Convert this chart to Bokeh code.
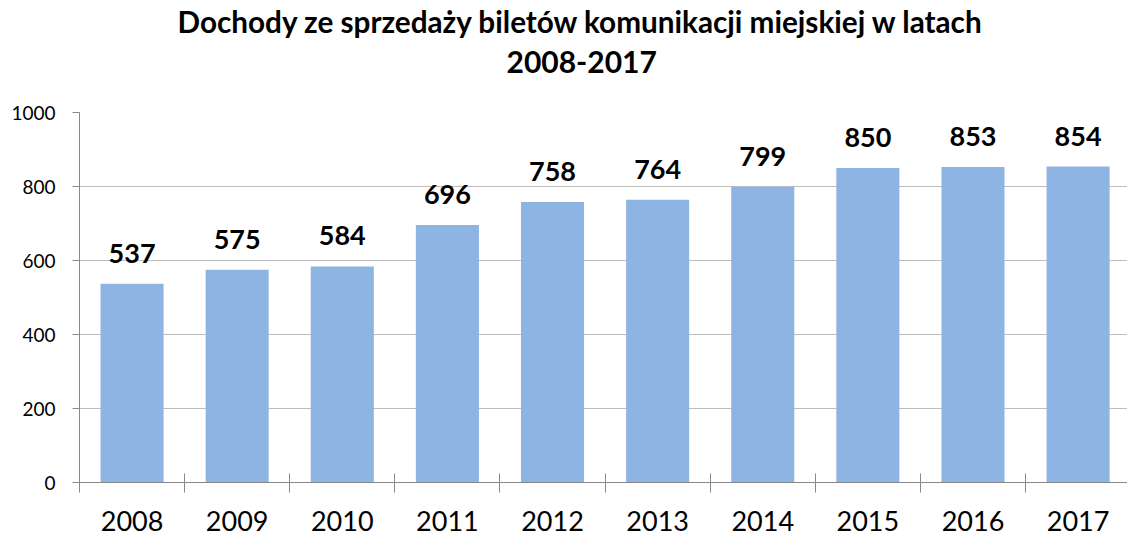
from bokeh.plotting import figure
from bokeh.models import ColumnDataSource, LabelSet, FixedTicker, Title, Range1d
from bokeh.core.properties import value
from bokeh.embed import file_html
from bokeh.resources import INLINE

years = ["2008", "2009", "2010", "2011", "2012", "2013", "2014", "2015", "2016", "2017"]
values = [537, 575, 584, 696, 758, 764, 799, 850, 853, 854]
y_ticks = [0, 200, 400, 600, 800, 1000]
title_line1 = "Dochody ze sprzedaży biletów komunikacji miejskiej w latach"
title_line2 = "2008-2017"

FONT = "Lato"
BAR = "#8EB4E3"
GRID = "#BDBDBD"
AXIS = "#888888"

n = len(years)
xs = [i + 0.5 for i in range(n)]
src = ColumnDataSource(dict(x=xs, top=values, label=[str(v) for v in values]))

p = figure(width=1127, height=537, x_range=Range1d(0, 9.97), y_range=Range1d(0, 1000),
           output_backend="svg", toolbar_location=None,
           min_border_left=79, min_border_right=0, min_border_bottom=55, min_border_top=112)

# blank spacer between the titles and the plot frame
spacer = Title(text=" ", text_font=FONT, text_font_size="10px", standoff=16)
p.add_layout(spacer, "above")

t2 = Title(text=title_line2, text_font=FONT, text_font_size="30px", text_font_style="bold",
           align="left", offset=427, text_color="#000000", standoff=20)
p.add_layout(t2, "above")

p.title.text = title_line1
p.title.text_font = FONT
p.title.text_font_size = "29.7px"
p.title.text_font_style = "bold"
p.title.align = "left"
p.title.offset = 98
p.title.text_color = "#000000"
p.title.standoff = 0

p.vbar(x="x", top="top", width=0.6, source=src, fill_color=BAR, line_color=None)

p.outline_line_color = None
p.background_fill_color = "white"
p.border_fill_color = "white"
p.xgrid.visible = False
p.ygrid.grid_line_color = GRID
p.ygrid.grid_line_width = 1

# y axis
p.yaxis.ticker = FixedTicker(ticks=y_ticks)
p.yaxis.axis_line_color = AXIS
p.yaxis.major_tick_line_color = AXIS
p.yaxis.major_tick_out = 7
p.yaxis.major_tick_in = 0
p.yaxis.minor_tick_line_color = None
p.yaxis.major_label_text_font = FONT
p.yaxis.major_label_text_font_size = "19px"
p.yaxis.major_label_text_color = "#000000"
p.yaxis.major_label_standoff = 17

# x axis: labels at category centres, tick marks at category boundaries
xax = p.below[0]
xax.ticker = FixedTicker(ticks=xs, minor_ticks=list(range(n + 1)))
xax.major_label_overrides = {x: y for x, y in zip(xs, years)}
xax.axis_line_color = AXIS
xax.major_tick_line_color = None
xax.major_tick_in = 0
xax.major_tick_out = 0
xax.minor_tick_line_color = AXIS
xax.minor_tick_in = 9
xax.minor_tick_out = 10
xax.major_label_text_font = FONT
xax.major_label_text_font_size = "27px"
xax.major_label_text_color = "#000000"
xax.major_label_standoff = 18

vals = LabelSet(x="x", y="top", text="label", source=src, text_align="center",
                text_baseline="alphabetic", y_offset=21, text_font=value(FONT),
                text_font_size=value("27px"), text_font_style="bold", text_color="#000000")
p.add_layout(vals)

open("out.html", "w").write(file_html(p, INLINE))
